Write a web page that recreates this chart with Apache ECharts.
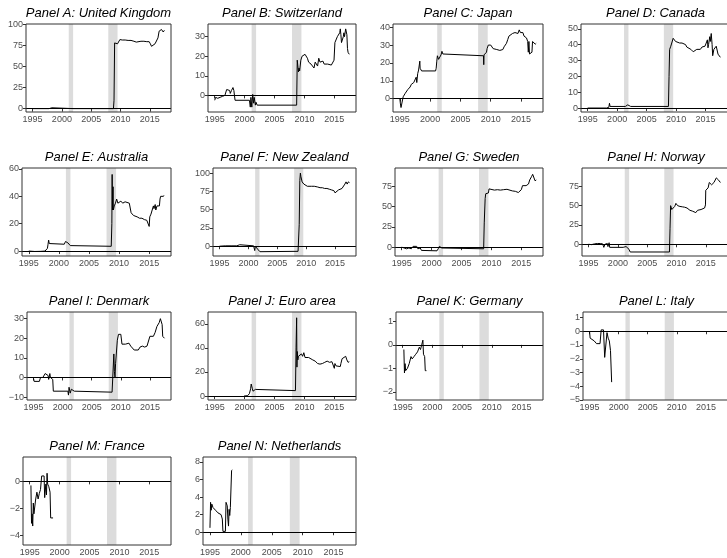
<!DOCTYPE html>
<html><head><meta charset="utf-8">
<script src="https://cdn.jsdelivr.net/npm/echarts@6/dist/echarts.min.js"></script>
<style>html,body{margin:0;padding:0;background:#fff}#c{width:727px;height:558px}</style>
</head><body><div id="c"></div>
<script>
// ---------- data ----------
const panelTitles = ['Panel A: United Kingdom','Panel B: Switzerland','Panel C: Japan','Panel D: Canada',
  'Panel E: Australia','Panel F: New Zealand','Panel G: Sweden','Panel H: Norway',
  'Panel I: Denmark','Panel J: Euro area','Panel K: Germany','Panel L: Italy',
  'Panel M: France','Panel N: Netherlands'];
const xTicks = [1995, 2000, 2005, 2010, 2015];
const recessions = [[2001.17, 2001.92], [2007.92, 2009.5]];

const ukData = [[1995.0,0],[1997.8,0],[1997.9,1],[1998.3,1],[1998.4,0],[2002.0,0],[2002.2,0.6],[2002.4,0],[2008.8,0],[2008.9,10],[2009.0,78],[2009.1,80],[2009.3,79.5],[2009.5,77],[2009.7,79],[2009.9,82],[2010.3,81.5],[2010.8,81.5],[2011.3,81],[2011.8,81],[2012.3,80],[2012.7,79],[2013.0,79.5],[2013.5,80],[2014.0,80],[2014.5,79.5],[2014.9,79.5],[2015.1,77],[2015.3,74],[2015.6,76],[2015.9,77],[2016.2,77.5],[2016.4,84],[2016.6,92],[2016.9,93],[2017.0,94],[2017.1,92],[2017.3,91],[2017.5,93]];
const chData = [[1995.0,-2.5],[1995.15,-1],[1995.3,-2],[1995.5,-1.5],[1995.7,-2],[1995.9,-1],[1996.1,-1.5],[1996.3,-0.5],[1996.5,-1],[1996.7,0],[1996.9,0.5],[1997.0,3],[1997.3,3],[1997.5,2.5],[1997.6,1],[1997.8,2.5],[1997.95,1.5],[1998.05,4],[1998.2,2.5],[1998.3,3.5],[1998.4,-2.5],[2000.8,-2.5],[2000.95,-6],[2001.05,-1],[2001.2,-6],[2001.35,0.5],[2001.5,-4],[2001.6,-1],[2001.8,-5],[2001.9,-3.5],[2002.1,-5],[2008.7,-5],[2008.8,18],[2008.9,19],[2009.0,12],[2009.1,14],[2009.2,12.5],[2009.4,18],[2009.6,20],[2009.9,20],[2010.1,21],[2010.3,22],[2010.5,19],[2010.7,17],[2010.9,18],[2011.1,16],[2011.4,17],[2011.6,14],[2011.8,17],[2012.0,18],[2012.2,15],[2012.4,19],[2012.6,17],[2012.9,16],[2013.1,17.5],[2013.3,16],[2013.6,17],[2013.9,16],[2014.2,16.5],[2014.5,15.5],[2014.8,16],[2014.95,18],[2015.05,17],[2015.1,27],[2015.3,27],[2015.5,30],[2015.7,29],[2015.9,32],[2016.0,34],[2016.1,31],[2016.2,27],[2016.3,26],[2016.5,30],[2016.6,32],[2016.7,30],[2016.9,34],[2017.0,33],[2017.1,31],[2017.2,24],[2017.3,22],[2017.5,21]];
const jpData = [[1995.0,0],[1995.1,-3],[1995.2,-5],[1995.35,-5.5],[1995.45,-4],[1995.55,1],[1995.7,2],[1995.9,3],[1996.1,4],[1996.3,5],[1996.5,6],[1996.7,6.5],[1996.9,8],[1997.1,8],[1997.3,9],[1997.4,8],[1997.5,10],[1997.6,8],[1997.7,12],[1997.8,9],[1997.95,14],[1998.1,16],[1998.2,15],[1998.3,21],[1998.35,17],[1998.45,16],[1998.6,15.5],[2000.9,15.5],[2001.0,17],[2001.1,21],[2001.2,24],[2001.4,22],[2001.6,23],[2001.8,24.5],[2001.95,26.5],[2002.1,25],[2002.3,24],[2008.8,24],[2008.85,19],[2008.9,24.5],[2009.1,25],[2009.3,26],[2009.4,28],[2009.6,30],[2009.8,29],[2010.0,30],[2010.2,29],[2010.4,28],[2010.7,28],[2011.0,27.5],[2011.5,27],[2012.0,27.5],[2012.2,29],[2012.4,29.5],[2012.6,31],[2012.8,33],[2013.0,35],[2013.3,36],[2013.6,36.5],[2014.0,37],[2014.3,37],[2014.5,36.5],[2014.7,38.5],[2014.9,37],[2015.1,36],[2015.3,37],[2015.5,35],[2015.7,36],[2015.9,34],[2016.1,32],[2016.2,26],[2016.3,32],[2016.4,25],[2016.6,24.5],[2016.8,26],[2016.9,32],[2017.0,33],[2017.2,31],[2017.35,30.5],[2017.5,31]];
const caData = [[1995.0,0],[1998.2,0],[1998.3,0.7],[1998.6,0.5],[1998.7,3],[1998.8,1],[2001.0,1],[2001.2,2],[2001.4,1],[2001.6,1.5],[2001.8,2],[2002.0,1.5],[2002.3,1],[2008.7,1],[2008.8,20],[2008.9,37],[2009.1,39],[2009.2,38],[2009.3,40],[2009.5,44],[2009.7,43],[2009.9,42],[2010.2,41.5],[2010.6,41],[2011.0,41],[2011.3,40],[2011.6,40],[2011.8,38.5],[2012.1,38],[2012.5,37],[2012.9,35.5],[2013.2,36],[2013.5,37],[2013.8,36.5],[2014.1,37],[2014.4,38.5],[2014.7,38],[2014.9,39],[2015.1,41],[2015.3,43],[2015.4,38],[2015.5,40],[2015.7,45],[2015.8,42],[2015.95,47],[2016.1,40],[2016.2,33],[2016.4,37],[2016.6,38],[2016.8,39],[2017.0,40],[2017.1,34],[2017.3,33],[2017.5,32]];
const auData = [[1995.0,0],[1996.0,-0.3],[1997.0,-0.2],[1997.7,0],[1997.9,1],[1998.1,2],[1998.2,5],[1998.3,8],[1998.4,5.5],[1998.6,5],[2000.9,5],[2001.0,4],[2001.1,7],[2001.3,7.5],[2001.5,6],[2001.7,5],[2001.9,4],[2002.1,3.5],[2008.7,3.5],[2008.8,20],[2008.85,56],[2008.9,30],[2009.0,47],[2009.05,30],[2009.2,33],[2009.4,35],[2009.6,38],[2009.8,35],[2010.0,36],[2010.3,36.5],[2010.6,35],[2011.0,36],[2011.3,35.5],[2011.7,35],[2011.9,36],[2012.0,28],[2012.2,28],[2012.4,26],[2012.6,25],[2013.0,25],[2013.4,24],[2013.8,24],[2014.2,23],[2014.6,22.5],[2014.9,23],[2015.0,18],[2015.1,25],[2015.3,27],[2015.5,30],[2015.7,33],[2015.8,31],[2016.0,34],[2016.1,30],[2016.3,33],[2016.5,32],[2016.7,33],[2016.8,38],[2016.9,40],[2017.1,39],[2017.3,40],[2017.5,40.5]];
const nzData = [[1995.0,0],[1996.0,0.5],[1997.0,0.5],[1998.0,0.5],[1998.5,2],[1998.6,0.5],[2000.9,0.5],[2001.0,-1],[2001.1,-6],[2001.2,0],[2001.4,-2],[2001.6,-4],[2001.8,-6],[2002.0,-7.5],[2002.2,-7],[2008.6,-7],[2008.8,30],[2008.9,90],[2009.0,100],[2009.1,95],[2009.3,88],[2009.6,85],[2009.9,83],[2010.2,82],[2010.5,81],[2010.9,82],[2011.2,84],[2011.4,82],[2011.7,81],[2012.0,81],[2012.4,80],[2012.8,80],[2013.2,79],[2013.6,79],[2014.0,78],[2014.4,77],[2014.8,76],[2015.0,73],[2015.3,75],[2015.6,77],[2015.9,78],[2016.2,79],[2016.5,80],[2016.7,85],[2016.9,88],[2017.1,85],[2017.3,88],[2017.5,87]];
const seData = [[1995.0,0],[1995.4,-1],[1995.8,-2],[1996.2,-1],[1996.6,-2],[1996.9,1],[1997.2,0.5],[1997.5,1],[1997.7,-2],[1997.9,0],[1998.1,-1],[1998.3,-4],[1998.6,-4.5],[2000.9,-4.5],[2001.1,-2],[2001.3,1],[2001.5,0],[2001.7,-1],[2001.9,-2],[2008.7,-2],[2008.8,30],[2008.95,60],[2009.05,66],[2009.3,65],[2009.5,67],[2009.6,72],[2009.9,71],[2010.5,70.5],[2011.0,71],[2011.5,70.5],[2012.0,71],[2012.3,70],[2012.6,71.5],[2012.9,70],[2013.5,69.5],[2014.0,69],[2014.5,67.5],[2014.8,69],[2015.0,71],[2015.2,76],[2015.5,77],[2015.8,76],[2016.0,78],[2016.2,78],[2016.4,83],[2016.7,87],[2016.9,90],[2017.1,88],[2017.3,82],[2017.5,83]];
const noData = [[1995.0,0],[1995.5,-0.5],[1996.0,0.5],[1996.5,1],[1997.0,1],[1997.4,0.5],[1997.6,-4],[1997.8,0],[1998.0,-2],[1998.2,1],[1998.3,-3],[1998.5,2],[1998.6,-4],[2000.9,-4],[2001.2,-4.5],[2001.4,-3],[2001.7,-5.5],[2001.9,-6.5],[2002.1,-10],[2008.8,-10],[2008.9,20],[2009.0,50],[2009.2,45],[2009.3,43],[2009.5,47],[2009.7,49],[2009.9,53],[2010.2,50],[2010.6,49],[2011.0,48.5],[2011.4,48],[2011.8,47],[2012.1,46],[2012.3,44],[2012.5,45],[2012.7,43],[2013.0,44],[2013.3,41],[2013.6,44],[2013.9,46],[2014.2,45],[2014.5,44],[2014.8,47],[2014.95,51],[2015.0,70],[2015.2,72],[2015.4,73],[2015.6,80],[2015.8,82],[2016.0,77],[2016.2,76],[2016.4,80],[2016.6,82],[2016.8,86],[2016.9,88],[2017.0,84],[2017.2,83],[2017.5,80]];
const dkData = [[1995.0,-0.5],[1995.1,-2],[1995.25,-3],[1995.4,-2.5],[1995.6,-2],[1995.8,-1.5],[1996.0,-2],[1996.2,0],[1996.4,-1],[1996.6,0],[1996.8,0.5],[1997.0,2],[1997.3,2],[1997.5,1],[1997.6,-1],[1997.8,2],[1997.9,0],[1998.0,-1],[1998.1,1],[1998.3,-1],[1998.4,-7],[2000.9,-7],[2001.0,-9],[2001.1,-5],[2001.3,-8],[2001.5,-6],[2001.6,-5],[2001.8,-7],[2002.0,-7],[2008.5,-7.5],[2008.7,-8],[2008.8,12],[2008.9,3],[2009.0,0],[2009.1,7],[2009.3,8],[2009.4,19],[2009.6,22],[2009.8,23],[2010.0,22],[2010.2,17],[2010.5,18],[2010.8,17],[2011.1,16],[2011.4,17.5],[2011.7,16],[2012.0,15],[2012.3,14],[2012.6,14.5],[2013.0,14],[2013.3,15.5],[2013.7,16],[2014.1,15.5],[2014.5,16],[2014.8,17],[2015.0,21],[2015.3,22],[2015.6,21],[2015.9,23],[2016.2,26],[2016.4,27],[2016.6,28],[2016.8,30],[2016.95,30.5],[2017.1,27],[2017.2,21],[2017.5,20]];
const euData = [[1999.9,0],[2000.5,0.3],[2000.8,2],[2001.0,6],[2001.1,10],[2001.3,6],[2001.4,4],[2001.6,4.5],[2001.8,5.5],[2002.0,4.5],[2008.5,4.5],[2008.6,40],[2008.7,65],[2008.75,24],[2008.8,37],[2008.9,30],[2009.0,33],[2009.3,32],[2009.5,35],[2009.7,33],[2009.9,36],[2010.1,32],[2010.4,31],[2010.7,32],[2011.0,31],[2011.4,30],[2011.8,29],[2012.2,27],[2012.6,26.5],[2013.0,27],[2013.4,28],[2013.8,29],[2014.2,28],[2014.6,28.5],[2014.9,29],[2015.0,23],[2015.1,27],[2015.3,25],[2015.6,24],[2016.0,24.5],[2016.1,27],[2016.3,31],[2016.6,32],[2016.9,33],[2017.1,30],[2017.3,28],[2017.5,28.5]];
const deData = [[1995.2,-0.2],[1995.3,-1.2],[1995.4,-0.8],[1995.5,-1.1],[1995.8,-1.0],[1996.1,-0.8],[1996.4,-0.5],[1996.6,-0.6],[1996.9,-0.5],[1997.2,-0.4],[1997.5,-0.3],[1997.8,-0.1],[1998.0,-0.2],[1998.2,0.0],[1998.4,0.2],[1998.5,-0.4],[1998.7,-0.5],[1998.8,-1.1],[1999.0,-1.1]];
const itData = [[1995.0,0],[1995.1,-0.5],[1995.4,-0.6],[1995.8,-0.7],[1996.2,-0.9],[1996.5,-1.0],[1996.8,-0.9],[1997.0,0.1],[1997.4,0.1],[1997.6,-1.9],[1997.8,-1.9],[1998.0,-0.1],[1998.2,-0.5],[1998.4,-0.7],[1998.6,-1.4],[1998.8,-3.7],[1998.9,-3.7]];
const frData = [[1995.2,-0.3],[1995.3,-3.1],[1995.4,-2.4],[1995.5,-3.3],[1995.6,-1.6],[1995.7,-2.4],[1995.85,-2.5],[1996.0,-1.3],[1996.2,-0.8],[1996.4,-1.3],[1996.6,-0.9],[1996.8,-0.6],[1997.0,0.4],[1997.4,0.4],[1997.5,-1.2],[1997.7,-0.2],[1997.8,-1.0],[1997.9,0.6],[1998.0,-0.2],[1998.2,-0.4],[1998.4,-0.8],[1998.5,-2.7],[1998.9,-2.7]];
const nlData = [[1995.0,0.5],[1995.1,3.4],[1995.2,2.5],[1995.3,3.2],[1995.5,2.8],[1995.7,2.9],[1995.9,2.5],[1996.1,2.6],[1996.3,2.2],[1996.5,2.0],[1996.6,2.4],[1996.8,2.0],[1997.0,1.5],[1997.1,0.1],[1997.5,0.1],[1997.6,3.4],[1997.8,3.0],[1997.9,1.5],[1998.0,0.7],[1998.1,2.6],[1998.2,1.9],[1998.3,2.8],[1998.4,2.8],[1998.5,7.0],[1998.6,7.1]];

const yTicksA = [0,25,50,75,100];
const yTicksB = [0,10,20,30];
const yTicksC = [0,10,20,30,40];
const yTicksD = [0,10,20,30,40,50];
const yTicksE = [0,20,40,60];
const yTicksF = [0,25,50,75,100];
const yTicksG = [0,25,50,75];
const yTicksH = [0,25,50,75];
const yTicksI = [-10,0,10,20,30];
const yTicksJ = [0,20,40,60];
const yTicksK = [-2,-1,0,1];
const yTicksL = [-5,-4,-3,-2,-1,0,1];
const yTicksM = [-4,-2,0];
const yTicksN = [0,2,4,6,8];

const yLimits = [[-4,100.5],[-8.5,36.5],[-7.5,41.8],[-2.5,53],[-3.6,60.7],[-13.4,107],[-10.9,97.8],[-15.2,98.8],
  [-11.5,33.4],[-3.3,69.8],[-2.35,1.4],[-5,1.4],[-4.7,1.8],[-1.45,8.55]];
const xLimits = [1993.875, 2018.625];

// ---------- layout ----------
const seriesData = [ukData,chData,jpData,caData,auData,nzData,seData,noData,dkData,euData,deData,itData,frData,nlData];
const yTickSets = [yTicksA,yTicksB,yTicksC,yTicksD,yTicksE,yTicksF,yTicksG,yTicksH,yTicksI,yTicksJ,yTicksK,yTicksL,yTicksM,yTicksN];
const rowTop = [24, 168, 312, 457];
const plotH = 88;
const lefts = [26,208,393,581, 22,213,395,582, 27,208,396,583, 23,203];
const rights = [171,356,543,730];

const fmt = v => (v < 0 ? '\u2212' + Math.abs(v) : String(v));
const grids = [], xAxes = [], yAxes = [], series = [], graphics = [];
seriesData.forEach((d, i) => {
  const r = Math.floor(i / 4), c = i % 4;
  const left = lefts[i], top = rowTop[r], w = rights[c] - left;
  grids.push({left: left, top: top, width: w, height: plotH, show: false});
  xAxes.push({type: 'value', gridIndex: i, min: xLimits[0], max: xLimits[1],
    axisLine: {show: false}, splitLine: {show: false},
    axisTick: {show: true, length: 3, lineStyle: {color: '#333', width: 1}, customValues: xTicks},
    axisLabel: {customValues: xTicks, color: '#4d4d4d', fontSize: 9, fontFamily: 'Liberation Sans', margin: 3, formatter: v => String(v)}});
  yAxes.push({type: 'value', gridIndex: i, min: yLimits[i][0], max: yLimits[i][1],
    axisLine: {show: false}, splitLine: {show: false},
    axisTick: {show: true, length: 3, lineStyle: {color: '#333', width: 1}, customValues: yTickSets[i]},
    axisLabel: {customValues: yTickSets[i], color: '#4d4d4d', fontSize: 9, fontFamily: 'Liberation Sans', margin: 3, formatter: fmt}});
  series.push({type: 'line', xAxisIndex: i, yAxisIndex: i, data: d, showSymbol: false, symbol: 'none',
    lineStyle: {color: '#000', width: 1}, z: 3, silent: true, animation: false,
    markArea: {silent: true, itemStyle: {color: '#dcdcdc'},
      data: recessions.map(p => [{xAxis: p[0]}, {xAxis: p[1]}])},
    markLine: {silent: true, symbol: 'none', label: {show: false},
      lineStyle: {color: '#000', width: 1, type: 'solid'}, data: [{yAxis: 0}]}});
  graphics.push({type: 'rect', shape: {x: left, y: top, width: w, height: plotH}, z: 100,
    style: {fill: 'none', stroke: '#333', lineWidth: 1}, silent: true});
  graphics.push({type: 'text', x: (left + rights[c]) / 2, y: top - 11, z: 100,
    style: {text: panelTitles[i], fill: '#000', font: 'italic 13px "Liberation Sans"',
      textAlign: 'center', textVerticalAlign: 'middle', align: 'center', verticalAlign: 'middle'}});
});

const chart = echarts.init(document.getElementById('c'), null, {renderer: 'canvas'});
chart.setOption({animation: false, grid: grids, xAxis: xAxes, yAxis: yAxes, series: series, graphic: graphics});
</script></body></html>
